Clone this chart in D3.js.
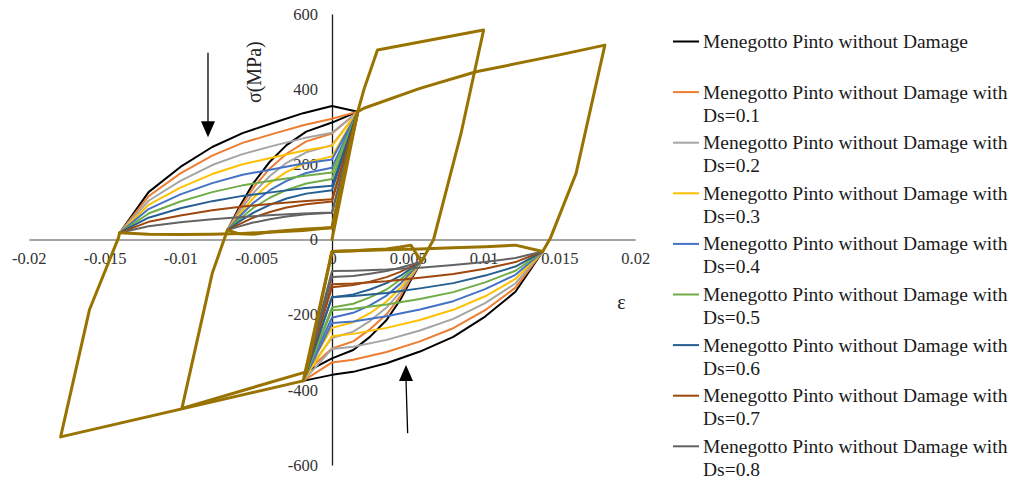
<!DOCTYPE html>
<html>
<head>
<meta charset="utf-8">
<script src="https://cdn.jsdelivr.net/npm/d3@7"></script>
<style>
  html, body { margin: 0; padding: 0; background: #fff; }
  svg, svg text { font-family: "Liberation Serif", "Times New Roman", "DejaVu Serif", serif; }
</style>
</head>
<body>
<svg id="chart" width="1017" height="480"></svg>
<script>
// ---- series ----
const seriesNames = [
  "Menegotto Pinto without Damage",
  "Menegotto Pinto without Damage with Ds=0.1",
  "Menegotto Pinto without Damage with Ds=0.2",
  "Menegotto Pinto without Damage with Ds=0.3",
  "Menegotto Pinto without Damage with Ds=0.4",
  "Menegotto Pinto without Damage with Ds=0.5",
  "Menegotto Pinto without Damage with Ds=0.6",
  "Menegotto Pinto without Damage with Ds=0.7",
  "Menegotto Pinto without Damage with Ds=0.8",
  "Menegotto Pinto without Damage with Ds=0.9"
];
const seriesColors = ["#000000", "#ED7D31", "#A5A5A5", "#FFC000", "#4472C4",
                      "#70AD47", "#255E91", "#9E480E", "#636363", "#997300"];

// reloading from the outer compressive reversal (strain, then stress per series, MPa)
const strainUpperOuter = [-0.0140, -0.0121, -0.0100, -0.0079, -0.0059, -0.0039, -0.0019, 0, 0.0017];
const stressUpperOuter = [
  [18, 126, 193, 246, 283, 310, 336, 355, 340],
  [18, 115, 176, 223, 257, 281, 304, 321, 340],
  [18, 103, 156, 198, 227, 249, 269, 284, 340],
  [18, 92, 138, 174, 200, 218, 236, 249, 340],
  [18, 81, 120, 150, 172, 187, 202, 213, 340],
  [18, 69, 101, 126, 144, 157, 169, 178, 340],
  [18, 58, 83, 102, 116, 126, 136, 143, 340],
  [18, 47, 64, 78, 88, 95, 102, 107, 340],
  [18, 35, 46, 54, 60, 65, 69, 72, 340],
  [18, 14, 13, 14, 16, 20, 24, 32, 340]
];

// reloading from the inner compressive reversal
const strainUpperInner = [-0.0069, -0.0061, -0.0052, -0.0041, -0.0030, -0.0017, 0, 0.0017];
const stressUpperInner = [
  [25, 87, 149, 207, 251, 287, 311, 340],
  [25, 81, 137, 189, 228, 261, 282, 340],
  [25, 74, 123, 169, 204, 232, 251, 340],
  [25, 67, 110, 150, 180, 204, 221, 340],
  [25, 61, 97, 131, 156, 177, 191, 340],
  [25, 54, 84, 111, 132, 149, 161, 340],
  [25, 48, 71, 92, 109, 122, 131, 340],
  [25, 41, 58, 73, 85, 94, 101, 340],
  [25, 35, 45, 54, 61, 67, 71, 340],
  [25, 15, 14, 20, 24, 28, 31, 340]
];

// unloading from the outer tensile reversal
const strainLowerOuter = [0.0139, 0.0121, 0.0101, 0.0080, 0.0058, 0.0036, 0.0014, 0, -0.0019];
const stressLowerOuter = [
  [-32, -139, -205, -259, -298, -329, -352, -360, -376],
  [-32, -128, -188, -236, -271, -299, -320, -327, -376],
  [-32, -117, -169, -211, -242, -267, -285, -291, -376],
  [-32, -105, -151, -187, -214, -235, -251, -257, -376],
  [-32, -94, -132, -164, -186, -204, -218, -222, -376],
  [-32, -83, -114, -140, -158, -173, -184, -188, -376],
  [-32, -72, -96, -116, -130, -142, -150, -153, -376],
  [-32, -60, -78, -92, -102, -111, -117, -119, -376],
  [-32, -49, -60, -68, -75, -80, -83, -84, -376],
  [-32, -15, -19, -22, -25, -27, -30, -32, -376]
];

// unloading from the inner tensile reversal
const strainLowerInner = [0.0059, 0.0052, 0.0045, 0.0036, 0.0025, 0.0014, 0, -0.0017];
const stressLowerInner = [
  [-59, -108, -161, -214, -259, -294, -316, -352],
  [-59, -103, -151, -199, -239, -271, -290, -352],
  [-59, -98, -140, -181, -217, -245, -262, -352],
  [-59, -93, -129, -165, -196, -220, -235, -352],
  [-59, -87, -118, -149, -175, -195, -208, -352],
  [-59, -82, -107, -133, -154, -171, -181, -352],
  [-59, -77, -97, -116, -133, -146, -154, -352],
  [-59, -72, -86, -100, -112, -121, -127, -352],
  [-59, -67, -75, -84, -91, -97, -100, -352],
  [-59, -15, -20, -25, -27, -30, -32, -352]
];

// hysteresis envelope shared by all series (drawn with the last series)
const envelopeStrain = [
  [0, 0.0017, 0.0021, 0.0030, 0.0100, 0.0085, 0.0067, 0.0059],
  [0.0017, 0.0021, 0.0058, 0.0095, 0.0150, 0.0180, 0.0161, 0.0144, 0.0139],
  [-0.0017, -0.0099, -0.0079, -0.0069],
  [-0.0019, -0.0179, -0.0160, -0.0141, -0.0140]
];
const envelopeStress = [
  [0, 340, 398, 504, 557, 280, 0, -59],
  [340, 349, 402, 446, 491, 517, 176, 3, -32],
  [-352, -449, -90, 25],
  [-376, -525, -187, 3, 18]
];

// ---- axes ----
const xTicks = [-0.02, -0.015, -0.01, -0.005, 0, 0.005, 0.01, 0.015, 0.02];
const xTickLabels = ["-0.02", "-0.015", "-0.01", "-0.005", "0", "0.005", "0.01", "0.015", "0.02"];
const yTicks = [-600, -400, -200, 0, 200, 400, 600];
const yTickLabels = ["-600", "-400", "-200", "0", "200", "400", "600"];

const W = 1017, H = 480;
const serif = "'Liberation Serif', 'Times New Roman', 'DejaVu Serif', serif";
const svg = d3.select("#chart");
const x = d3.scaleLinear().domain([-0.02, 0.02]).range([28.8, 635.2]);
const y = d3.scaleLinear().domain([-600, 600]).range([465.1, 13.9]);

const xAxis = svg.append("g")
  .attr("transform", `translate(0,${y(0)})`)
  .call(d3.axisBottom(x).tickValues(xTicks).tickSize(0).tickPadding(13)
        .tickFormat((d, i) => xTickLabels[i]));
xAxis.attr("font-family", serif);
xAxis.select(".domain").attr("stroke", "#868686").attr("stroke-width", 1.5);
xAxis.selectAll("text").attr("font-size", 16.5).attr("fill", "#333");

const yAxis = svg.append("g")
  .attr("transform", `translate(${x(0)},0)`)
  .call(d3.axisLeft(y).tickValues(yTicks).tickSize(0).tickPadding(14)
        .tickFormat((d, i) => yTickLabels[i]));
yAxis.attr("font-family", serif);
yAxis.select(".domain").attr("stroke", "#1a1a1a").attr("stroke-width", 1.3);
yAxis.selectAll("text").attr("font-size", 16.5).attr("fill", "#333");

// axis titles
svg.append("text")
  .attr("transform", `translate(254,${y(445)}) rotate(-90)`)
  .attr("text-anchor", "middle").attr("dominant-baseline", "central")
  .attr("font-family", serif)
  .attr("font-size", 20).attr("fill", "#222").text("σ(MPa)");
svg.append("text")
  .attr("x", x(0.0191)).attr("y", y(-166))
  .attr("text-anchor", "middle").attr("dominant-baseline", "central")
  .attr("font-family", serif)
  .attr("font-size", 20).attr("fill", "#222").text("ε");

// ---- curves ----
const line = d3.line().x(d => x(d[0])).y(d => y(d[1]));
const pair = (strains, stresses) => strains.map((e, j) => [e, stresses[j]]);
const plot = svg.append("g").attr("fill", "none")
  .attr("stroke-linejoin", "round").attr("stroke-linecap", "round");

seriesColors.forEach((color, i) => {
  const last = i === seriesColors.length - 1;
  const w = last ? 3 : 2;
  const branches = [
    pair(strainUpperOuter, stressUpperOuter[i]),
    pair(strainUpperInner, stressUpperInner[i]),
    pair(strainLowerOuter, stressLowerOuter[i]),
    pair(strainLowerInner, stressLowerInner[i])
  ];
  if (last) {
    envelopeStrain.forEach((s, k) => branches.push(pair(s, envelopeStress[k])));
  }
  branches.forEach(b => {
    plot.append("path").attr("d", line(b)).attr("stroke", color).attr("stroke-width", w);
  });
});

// ---- arrows ----
function arrow(e, sTail, sTip, eTail) {
  const tx = x(e), ty = y(sTip);
  const dir = sTip < sTail ? 1 : -1;
  const bx = x(eTail === undefined ? e : eTail);
  svg.append("line")
    .attr("x1", bx).attr("y1", y(sTail))
    .attr("x2", tx).attr("y2", ty - dir * 14)
    .attr("stroke", "#000").attr("stroke-width", 1.3);
  svg.append("path")
    .attr("d", `M${tx},${ty} L${tx - 7},${ty - dir * 16} L${tx + 7},${ty - dir * 16} Z`)
    .attr("fill", "#000");
}
arrow(-0.00818, 497, 272);
arrow(0.00488, -515, -334, 0.00499);

// ---- legend (entries that fit in the frame) ----
const legend = svg.append("g").attr("font-size", 19.5).attr("fill", "#1a1a1a")
  .attr("font-family", serif);
seriesNames.forEach((name, i) => {
  const top = 41.5 + 50.6 * i;
  const cut = name.indexOf(" Ds=");
  const lines = cut < 0 ? [name] : [name.slice(0, cut), name.slice(cut + 1)];
  if (top + (lines.length - 1) * 23 + 8 > H) return;
  legend.append("line")
    .attr("x1", 673).attr("x2", 699).attr("y1", top).attr("y2", top)
    .attr("stroke", seriesColors[i]).attr("stroke-width", 2);
  lines.forEach((t, k) => {
    legend.append("text")
      .attr("x", 703).attr("y", top + k * 23)
      .attr("dominant-baseline", "central").text(t);
  });
});
</script>
</body>
</html>
